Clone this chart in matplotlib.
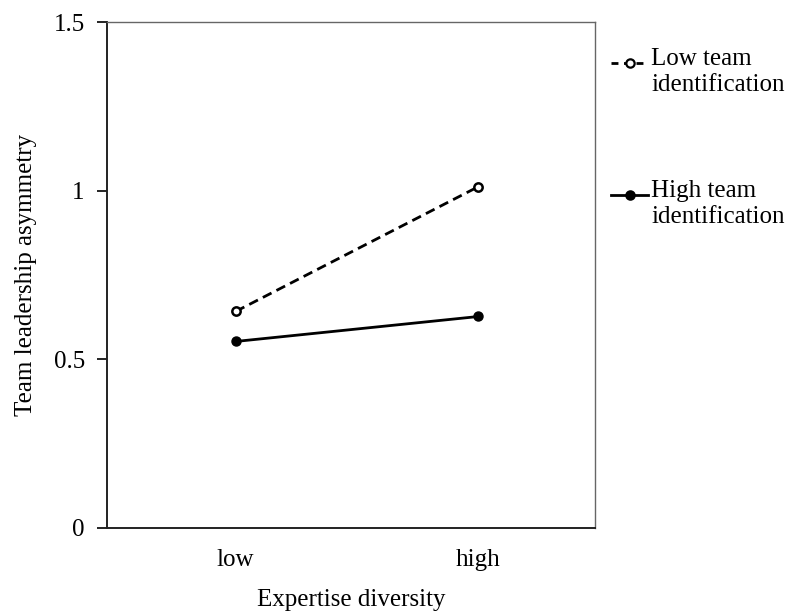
import matplotlib
matplotlib.use('Agg')
import matplotlib.pyplot as plt
from matplotlib.lines import Line2D

categories = ['low', 'high']
low_team_id = [0.642, 1.012]
high_team_id = [0.553, 0.627]
y_ticks = [0, 0.5, 1, 1.5]
y_tick_labels = ['0', '0.5', '1', '1.5']

plt.rcParams['font.family'] = ['Liberation Serif', 'DejaVu Serif']
plt.rcParams['font.size'] = 18

fig = plt.figure(figsize=(7.92, 6.12), dpi=100)
ax = fig.add_axes([107/792, 1 - 528/612, 488/792, 506/612])

x = range(len(categories))
ax.plot(x, low_team_id, color='black', linestyle=(0, (3.5, 2)), linewidth=2,
        marker='o', markersize=6, markerfacecolor='white', markeredgewidth=1.8)
ax.plot(x, high_team_id, color='black', linestyle='-', linewidth=2,
        marker='o', markersize=6.5, markerfacecolor='black')

ax.set_xlim(-0.53, 1.48)
ax.set_ylim(0, 1.5)
ax.set_xticks(list(x))
ax.set_xticklabels(categories)
ax.set_yticks(y_ticks)
ax.set_yticklabels(y_tick_labels)
ax.tick_params(axis='x', length=0, pad=15)
ax.tick_params(axis='y', length=7, width=1.2, direction='out', pad=9)
for side in ['left', 'bottom']:
    ax.spines[side].set_linewidth(1.4)
    ax.spines[side].set_color('#222222')
for side in ['top', 'right']:
    ax.spines[side].set_linewidth(1.0)
    ax.spines[side].set_color('#666666')

ax.set_xlabel('Expertise diversity', labelpad=13)
ax.set_ylabel('Team leadership asymmetry', labelpad=12)

#legend drawn by hand so the handle sits on the first text line
def legend_entry(y_px, dashed, face, label):
    y = 1 - y_px / 612
    ls = (0, (2.5, 2)) if dashed else '-'
    fig.add_artist(Line2D([611/792, 648/792], [y, y], transform=fig.transFigure,
                          color='black', linestyle=ls, linewidth=2))
    fig.add_artist(Line2D([629.5/792], [y], transform=fig.transFigure, color='black',
                          marker='o', markersize=6, markerfacecolor=face,
                          markeredgewidth=1.6, linestyle='none'))
    fig.text(651/792, y + 15/612, label, ha='left', va='top', fontsize=18,
             linespacing=1.25, transform=fig.transFigure)

legend_entry(63, True, 'white', 'Low team\nidentification')
legend_entry(195, False, 'black', 'High team\nidentification')

fig.savefig('out.png', dpi=100)
